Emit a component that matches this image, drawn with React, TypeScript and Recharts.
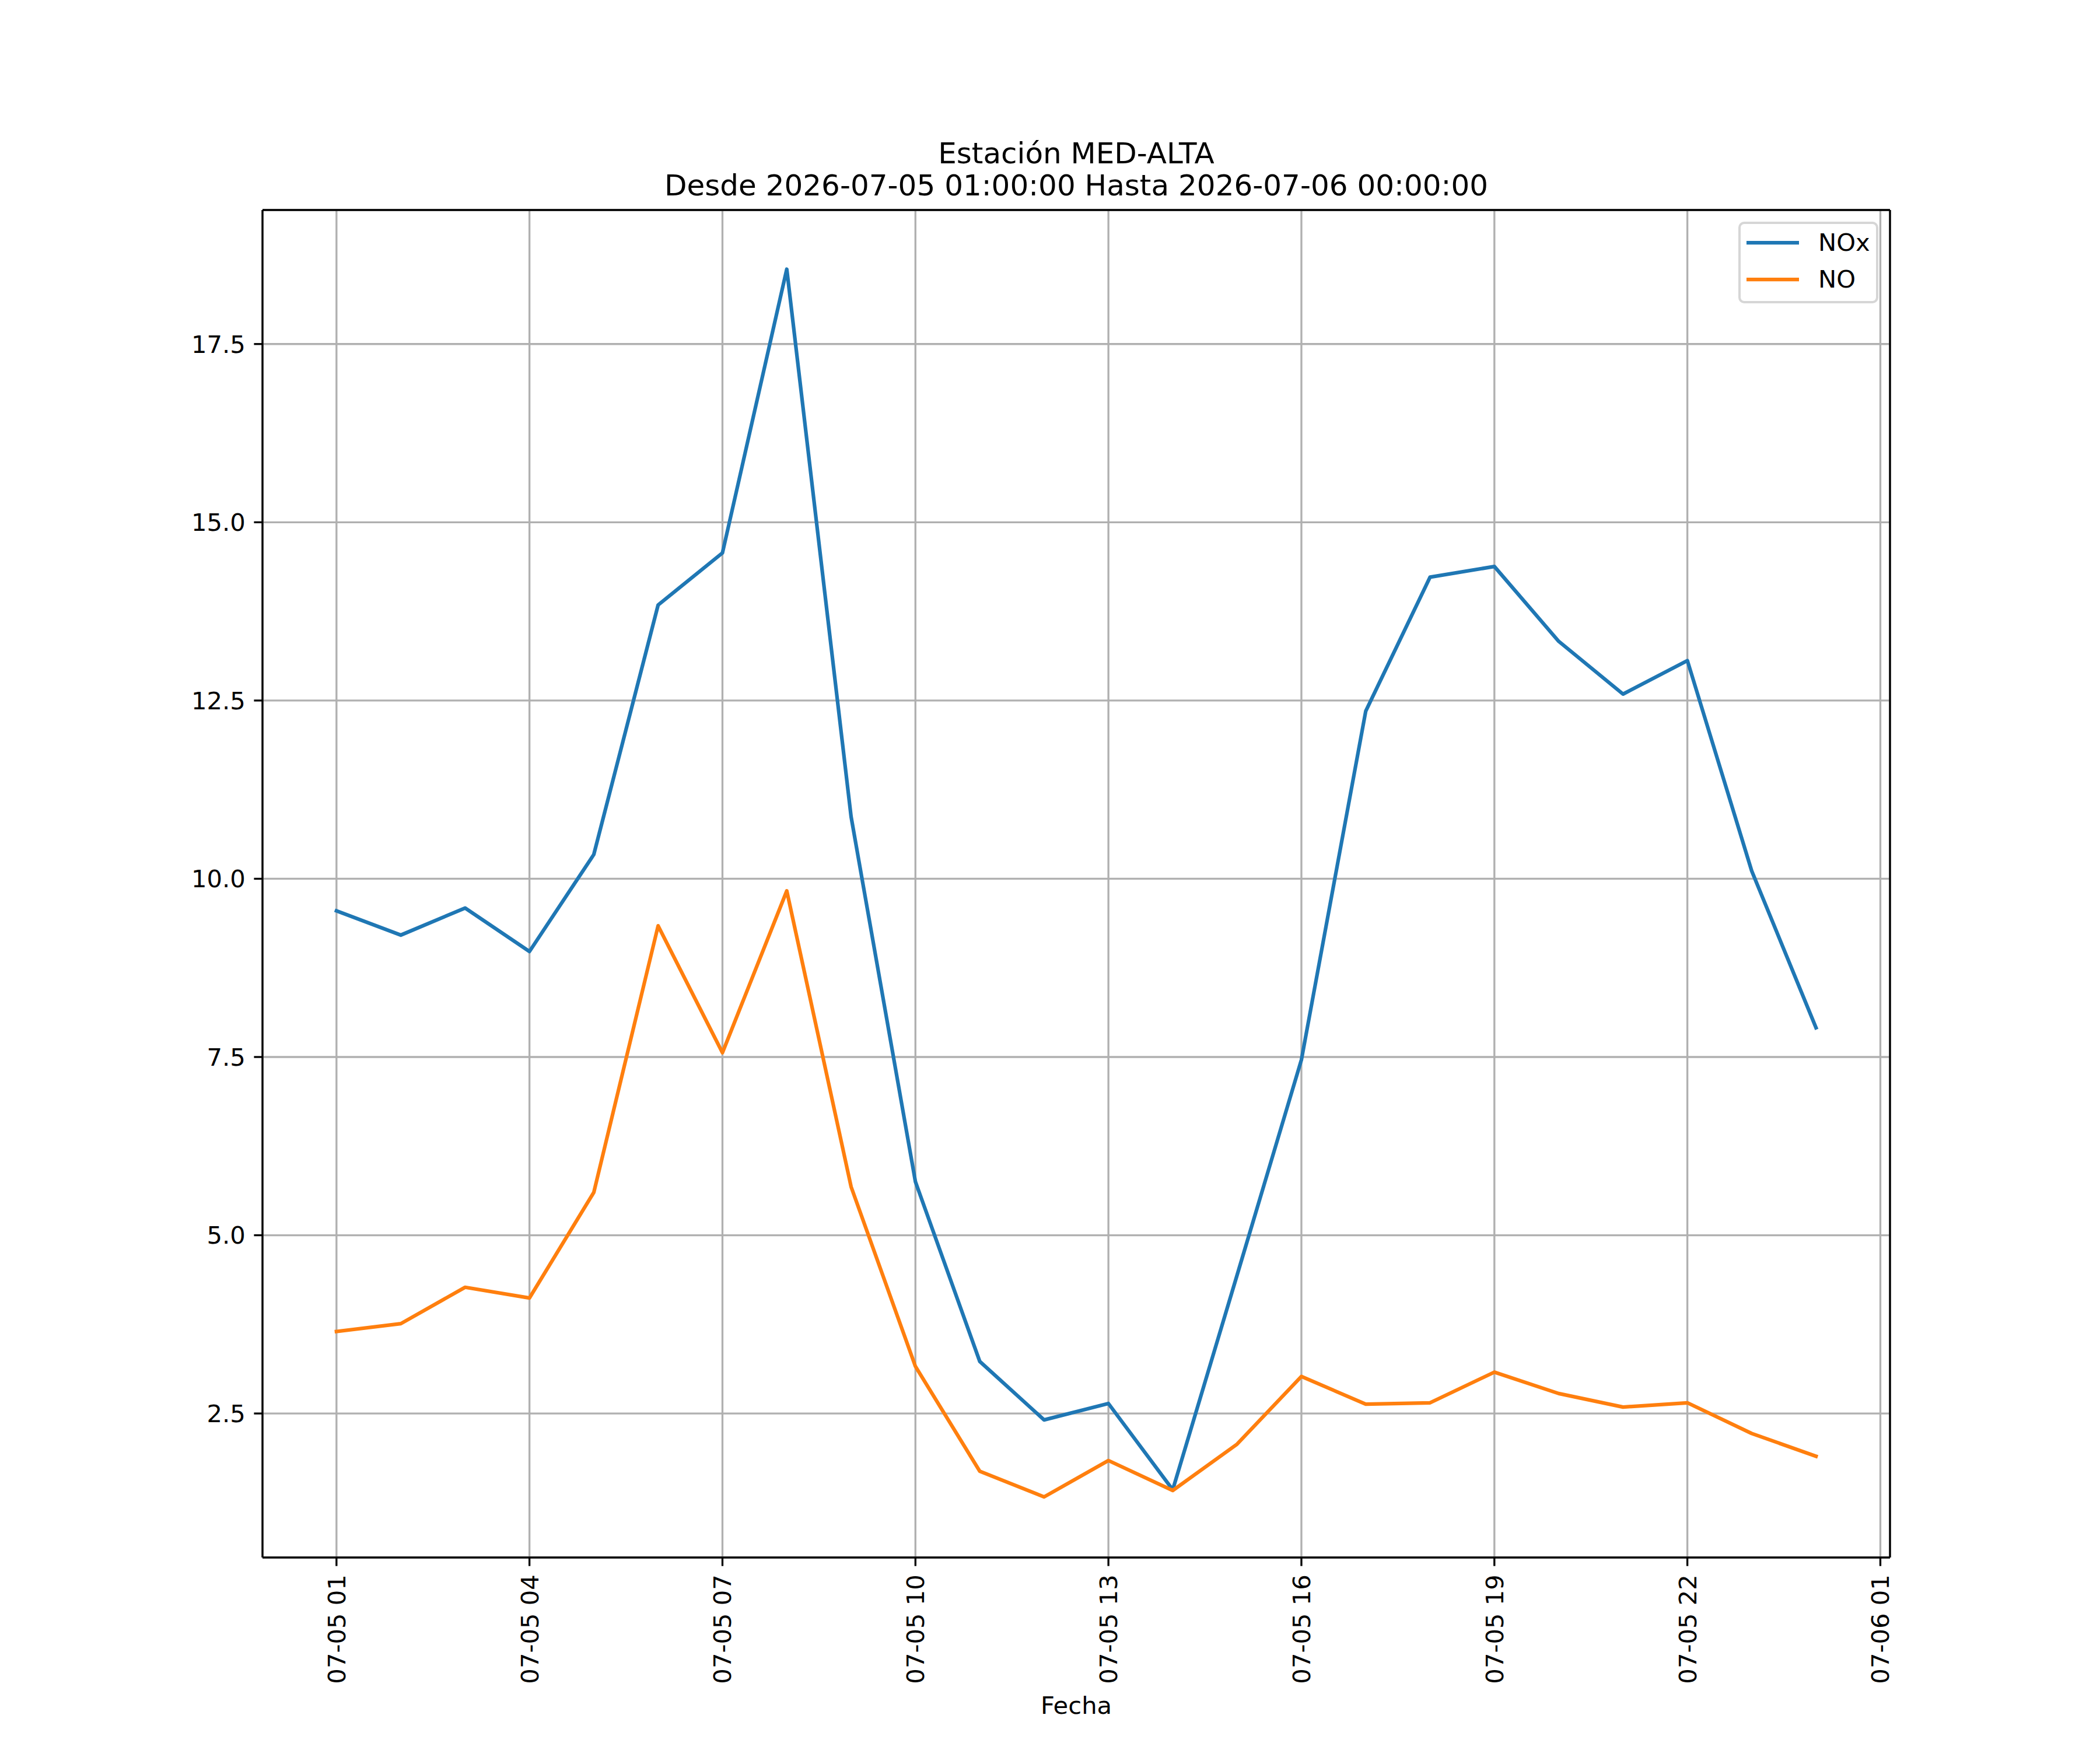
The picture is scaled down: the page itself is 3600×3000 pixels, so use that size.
import React from "react";
import {
  LineChart,
  Line,
  XAxis,
  YAxis,
  CartesianGrid,
  Legend,
  ReferenceLine,
} from "recharts";

// ---- data ----
const hours = [1, 2, 3, 4, 5, 6, 7, 8, 9, 10, 11, 12, 13, 14, 15, 16, 17, 18, 19, 20, 21, 22, 23, 24];
const noxValues = [
  9.55, 9.21, 9.59, 8.98, 10.34, 13.84, 14.57, 18.55, 10.87, 5.75, 3.23, 2.41,
  2.64, 1.43, 4.44, 7.46, 12.35, 14.23, 14.38, 13.33, 12.59, 13.06, 10.11, 7.91,
];
const noValues = [
  3.65, 3.76, 4.27, 4.12, 5.6, 9.34, 7.56, 9.83, 5.68, 3.16, 1.69, 1.33,
  1.84, 1.42, 2.07, 3.02, 2.63, 2.65, 3.08, 2.78, 2.59, 2.65, 2.22, 1.9,
];
const xTicks = [1, 4, 7, 10, 13, 16, 19, 22, 25];
const yTicks = [2.5, 5.0, 7.5, 10.0, 12.5, 15.0, 17.5];
const xDomain = [-0.15, 25.15];
const yDomain = [0.48, 19.38];
const seriesNames = ["NOx", "NO"];
const seriesColors = ["#1f77b4", "#ff7f0e"];
const titleLines = [
  "Estación MED-ALTA",
  "Desde 2026-07-05 01:00:00 Hasta 2026-07-06 00:00:00",
];
const xLabel = "Fecha";

const data = hours.map((h, i) => ({ hour: h, NOx: noxValues[i], NO: noValues[i] }));

const FONT = "'DejaVu Sans', sans-serif";
const TICK_FS = 41.7;
const LW = 6.25;
const SPINE = 3.33;

const pad2 = (n: number) => (n < 10 ? "0" + n : "" + n);
const fmtHour = (h: number) => (h <= 23 ? `07-05 ${pad2(h)}` : `07-06 ${pad2(h - 24)}`);

const XTick = (props: any) => {
  const { x, y, payload } = props;
  return (
    <g transform={`translate(${x},${y})`}>
      <text
        transform="rotate(-90)"
        textAnchor="end"
        dy="0.36em"
        fontSize={TICK_FS}
        fontFamily={FONT}
        fill="#000"
      >
        {fmtHour(payload.value)}
      </text>
    </g>
  );
};

const renderLegend = () => (
  <svg width={240} height={140} style={{ display: "block" }}>
    <rect x={2} y={2} width={236} height={136} rx={8} ry={8} fill="#ffffff" fillOpacity={0.8} stroke="#d6d6d6" strokeWidth={4} />
    {seriesNames.map((n, i) => (
      <g key={n}>
        <line x1={14} x2={104} y1={36 + i * 63} y2={36 + i * 63} stroke={seriesColors[i]} strokeWidth={LW} />
        <text x={137} y={50 + i * 63} fontSize={TICK_FS} fontFamily={FONT} fill="#000">
          {n}
        </text>
      </g>
    ))}
  </svg>
);

export default function App() {
  return (
    <div style={{ position: "absolute", left: 0, top: 0, width: 3600, height: 3000, background: "#fff" }}>
      <LineChart
        width={3600}
        height={3000}
        data={data}
        margin={{ top: 360, right: 360, bottom: 30, left: 250 }}
      >
        <CartesianGrid stroke="#b0b0b0" strokeWidth={SPINE} strokeDasharray="" />
        <XAxis
          dataKey="hour"
          type="number"
          domain={xDomain}
          ticks={xTicks}
          interval={0}
          allowDataOverflow
          height={300}
          tickSize={14.6}
          tickMargin={14.6}
          tick={<XTick />}
          axisLine={{ stroke: "#000", strokeWidth: SPINE }}
          tickLine={{ stroke: "#000", strokeWidth: SPINE }}
          label={{ value: xLabel, position: "insideBottom", offset: 32, fontSize: TICK_FS, fontFamily: FONT, fill: "#000" }}
        />
        <YAxis
          type="number"
          domain={yDomain}
          ticks={yTicks}
          interval={0}
          allowDataOverflow
          width={200}
          tickSize={14.6}
          tickMargin={14.6}
          tickFormatter={(v: number) => v.toFixed(1)}
          tick={{ fontSize: TICK_FS, fontFamily: FONT, fill: "#000" }}
          axisLine={{ stroke: "#000", strokeWidth: SPINE }}
          tickLine={{ stroke: "#000", strokeWidth: SPINE }}
        />
        <Legend
          layout="horizontal"
          verticalAlign="middle"
          align="center"
          content={renderLegend}
          wrapperStyle={{ position: "absolute", left: 2980, top: 380, width: 240, height: 140, margin: 0, padding: 0 }}
        />
        <Line
          type="linear"
          dataKey="NOx"
          name={seriesNames[0]}
          stroke={seriesColors[0]}
          strokeWidth={LW}
          strokeLinejoin="round"
          strokeLinecap="square"
          dot={false}
          activeDot={false}
          isAnimationActive={false}
        />
        <Line
          type="linear"
          dataKey="NO"
          name={seriesNames[1]}
          stroke={seriesColors[1]}
          strokeWidth={LW}
          strokeLinejoin="round"
          strokeLinecap="square"
          dot={false}
          activeDot={false}
          isAnimationActive={false}
        />
        <ReferenceLine y={yDomain[1]} stroke="#000" strokeWidth={SPINE} ifOverflow="visible" />
        <ReferenceLine x={xDomain[1]} stroke="#000" strokeWidth={SPINE} ifOverflow="visible" />
      </LineChart>
      <svg
        width={3600}
        height={360}
        style={{ position: "absolute", left: 0, top: 0, pointerEvents: "none" }}
      >
        {titleLines.map((t, i) => (
          <text key={i} x={1845} y={280 + i * 55} textAnchor="middle" fontSize={50} fontFamily={FONT} fill="#000">
            {t}
          </text>
        ))}
      </svg>
    </div>
  );
}
